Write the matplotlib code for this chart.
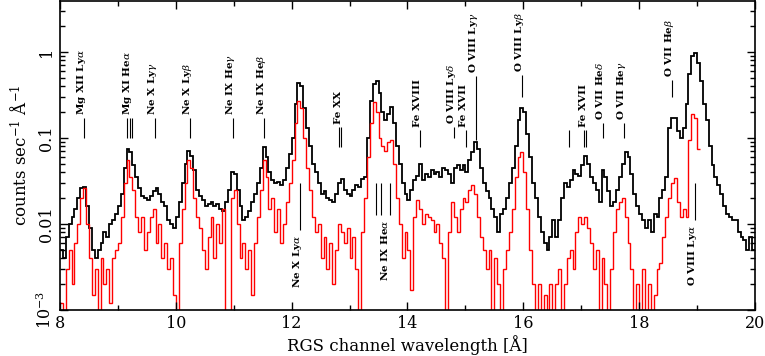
import matplotlib
matplotlib.use("Agg")
import matplotlib.pyplot as plt
import numpy as np

plt.rcParams['font.family'] = 'DejaVu Serif'
plt.rcParams['mathtext.fontset'] = 'dejavuserif'

# RGS spectra, counts/s/A, 0.05 A bins starting at 8.0 A
wave_start = 8.0
bin_width = 0.05

black = [
    0.005, 0.004, 0.007, 0.010, 0.012, 0.015, 0.020, 0.026, 0.027, 0.016,   # 8.0
    0.009, 0.005, 0.004, 0.005, 0.006, 0.008, 0.007, 0.010, 0.011, 0.013,   # 8.5
    0.016, 0.022, 0.045, 0.075, 0.068, 0.048, 0.035, 0.026, 0.021, 0.020,   # 9.0
    0.019, 0.021, 0.024, 0.026, 0.022, 0.018, 0.016, 0.011, 0.010, 0.009,   # 9.5
    0.012, 0.018, 0.030, 0.050, 0.070, 0.062, 0.042, 0.025, 0.021, 0.019,   # 10.0
    0.016, 0.017, 0.018, 0.016, 0.017, 0.015, 0.014, 0.018, 0.025, 0.040,   # 10.5
    0.038, 0.025, 0.016, 0.011, 0.012, 0.014, 0.018, 0.022, 0.030, 0.045,   # 11.0
    0.078, 0.060, 0.040, 0.032, 0.030, 0.031, 0.028, 0.032, 0.045, 0.065,   # 11.5
    0.10, 0.25, 0.44, 0.40, 0.22, 0.13, 0.08, 0.05, 0.040, 0.030,           # 12.0
    0.022, 0.024, 0.020, 0.019, 0.018, 0.022, 0.030, 0.033, 0.025, 0.022,   # 12.5
    0.021, 0.025, 0.028, 0.027, 0.033, 0.035, 0.10, 0.27, 0.42, 0.46,       # 13.0
    0.33, 0.20, 0.16, 0.19, 0.23, 0.15, 0.08, 0.050, 0.030, 0.022,          # 13.5
    0.019, 0.025, 0.032, 0.036, 0.050, 0.032, 0.038, 0.035, 0.042, 0.038,   # 14.0
    0.040, 0.035, 0.045, 0.042, 0.038, 0.030, 0.045, 0.048, 0.042, 0.048,   # 14.5
    0.040, 0.055, 0.068, 0.090, 0.075, 0.045, 0.030, 0.024, 0.020, 0.015,   # 15.0
    0.012, 0.008, 0.013, 0.015, 0.020, 0.030, 0.045, 0.080, 0.16, 0.22,     # 15.5
    0.20, 0.11, 0.060, 0.030, 0.020, 0.012, 0.008, 0.006, 0.005, 0.007,     # 16.0
    0.011, 0.007, 0.011, 0.020, 0.030, 0.027, 0.032, 0.042, 0.038, 0.036,   # 16.5
    0.048, 0.062, 0.050, 0.035, 0.030, 0.025, 0.018, 0.042, 0.035, 0.024,   # 17.0
    0.016, 0.018, 0.025, 0.035, 0.050, 0.068, 0.060, 0.038, 0.022, 0.016,   # 17.5
    0.013, 0.011, 0.009, 0.011, 0.008, 0.013, 0.012, 0.020, 0.025, 0.035,   # 18.0
    0.13, 0.17, 0.17, 0.12, 0.10, 0.13, 0.25, 0.55, 0.90, 0.97,             # 18.5
    0.75, 0.46, 0.25, 0.16, 0.080, 0.048, 0.035, 0.028, 0.022, 0.016,       # 19.0
    0.013, 0.012, 0.011, 0.011, 0.008, 0.007, 0.0065, 0.005, 0.007, 0.005,  # 19.5
]

red = [
    0.0012, 0.0008, 0.003, 0.005, 0.002, 0.006, 0.010, 0.020, 0.026, 0.010,     # 8.0
    0.004, 0.0015, 0.003, 0.0008, 0.004, 0.002, 0.003, 0.0012, 0.004, 0.005,    # 8.5
    0.006, 0.012, 0.030, 0.055, 0.035, 0.025, 0.012, 0.008, 0.012, 0.005,      # 9.0
    0.008, 0.012, 0.015, 0.006, 0.010, 0.004, 0.006, 0.003, 0.004, 0.0015,     # 9.5
    0.001, 0.006, 0.015, 0.030, 0.055, 0.045, 0.020, 0.012, 0.009, 0.005,      # 10.0
    0.003, 0.007, 0.012, 0.004, 0.010, 0.006, 0.015, 0.0007, 0.0008, 0.020,    # 10.5
    0.025, 0.010, 0.004, 0.006, 0.003, 0.005, 0.0015, 0.006, 0.012, 0.025,     # 11.0
    0.055, 0.035, 0.015, 0.020, 0.008, 0.015, 0.006, 0.010, 0.018, 0.030,      # 11.5
    0.055, 0.15, 0.27, 0.22, 0.10, 0.045, 0.025, 0.012, 0.008, 0.010,          # 12.0
    0.004, 0.007, 0.003, 0.006, 0.002, 0.005, 0.010, 0.008, 0.006, 0.009,      # 12.5
    0.004, 0.007, 0.003, 0.0007, 0.008, 0.020, 0.060, 0.15, 0.26, 0.20,        # 13.0
    0.10, 0.08, 0.07, 0.090, 0.095, 0.05, 0.020, 0.010, 0.004, 0.008,          # 13.5
    0.005, 0.0017, 0.012, 0.019, 0.015, 0.010, 0.013, 0.012, 0.011, 0.008,     # 14.0
    0.010, 0.006, 0.004, 0.0007, 0.008, 0.018, 0.012, 0.008, 0.015, 0.020,     # 14.5
    0.018, 0.025, 0.028, 0.022, 0.012, 0.007, 0.005, 0.003, 0.005, 0.0008,     # 15.0
    0.004, 0.002, 0.0008, 0.003, 0.005, 0.008, 0.015, 0.035, 0.060, 0.068,     # 15.5
    0.040, 0.015, 0.005, 0.002, 0.0008, 0.002, 0.0007, 0.0015, 0.0008, 0.002,  # 16.0
    0.0007, 0.002, 0.003, 0.0008, 0.002, 0.004, 0.005, 0.003, 0.008, 0.012,    # 16.5
    0.010, 0.012, 0.009, 0.006, 0.003, 0.005, 0.0008, 0.004, 0.002, 0.0008,    # 17.0
    0.003, 0.008, 0.015, 0.018, 0.020, 0.012, 0.006, 0.003, 0.0008, 0.002,     # 17.5
    0.0007, 0.003, 0.0008, 0.002, 0.0007, 0.0015, 0.003, 0.0035, 0.007, 0.012, # 18.0
    0.020, 0.030, 0.034, 0.018, 0.012, 0.015, 0.012, 0.095, 0.19, 0.17,        # 18.5
    0.075,                                                                     # 19.0
]

# line identifications: (label, wavelengths)
top_lines = [
    (r'Mg XII Ly$\alpha$', [8.42]),
    (r'Mg XI He$\alpha$', [9.16, 9.205, 9.25]),
    (r'Ne X Ly$\gamma$', [9.64]),
    (r'Ne X Ly$\beta$', [10.24]),
    (r'Ne IX He$\gamma$', [10.98]),
    (r'Ne IX He$\beta$', [11.53]),
    (r'Fe XX', [12.81, 12.86]),
    (r'Fe XVIII', [14.21]),
    (r'O VIII Ly$\delta$', [14.81]),
    (r'Fe XVII', [15.01]),
    (r'O VIII Ly$\gamma$', [15.18]),
    (r'O VIII Ly$\beta$', [15.98]),
    ('', [16.78]),
    (r'Fe XVII', [17.04, 17.09]),
    (r'O VII He$\delta$', [17.38]),
    (r'O VII He$\gamma$', [17.74]),
    (r'O VII He$\beta$', [18.57]),
]
# marker extent in axes fraction (bottom, top)
top_marks = [
    (0.557, 0.621), (0.557, 0.621), (0.557, 0.621), (0.557, 0.621),
    (0.557, 0.621), (0.557, 0.621), (0.528, 0.592), (0.528, 0.583),
    (0.557, 0.592), (0.528, 0.583), (0.550, 0.757), (0.689, 0.761),
    (0.528, 0.583), (0.528, 0.583), (0.557, 0.605), (0.557, 0.605),
    (0.689, 0.744),
]

bottom_lines = [
    (r'Ne X Ly$\alpha$', [12.14], 12.14),
    (r'Ne IX He$\alpha$', [13.45, 13.55, 13.69], 13.67),
    (r'O VIII Ly$\alpha$', [18.97], 18.97),
]
bottom_marks = [(0.259, 0.411), (0.307, 0.411), (0.291, 0.411)]

fig = plt.figure(figsize=(7.65, 3.56), dpi=100)
ax = fig.add_axes([60 / 765, 46 / 356, 695 / 765, 309 / 356])

edges_k = wave_start + bin_width * np.arange(len(black) + 1)
edges_r = wave_start + bin_width * np.arange(len(red) + 1)
ax.stairs(black, edges_k, baseline=None, color='black', lw=1.3)
ax.stairs(red, edges_r, baseline=None, color='#ff0000', lw=1.0)

ax.set_yscale('log')
ax.set_xlim(8, 20)
ax.set_ylim(1e-3, 3.9)

tr = ax.get_xaxis_transform()
for (txt, xs), (y0, y1) in zip(top_lines, top_marks):
    ax.vlines(xs, y0, y1, transform=tr, color='black', lw=0.8)
    if txt:
        ax.text(xs[-1] if len(xs) < 3 else xs[1], y1 + 0.01, txt, transform=tr,
                rotation=90, rotation_mode='anchor', ha='left', va='baseline',
                fontsize=7.5, fontweight='bold')
for (txt, xs, xt), (y0, y1) in zip(bottom_lines, bottom_marks):
    ax.vlines(xs, y0, y1, transform=tr, color='black', lw=0.8)
    ax.text(xt, y0 - 0.016, txt, transform=tr,
            rotation=90, rotation_mode='anchor', ha='right', va='baseline',
            fontsize=7.5, fontweight='bold')

ax.set_xticks([8, 10, 12, 14, 16, 18, 20])
ax.set_xticks(np.arange(9, 20, 2), minor=True)
ax.set_yticks([1e-3, 1e-2, 1e-1, 1])
ax.set_yticklabels([r'$10^{-3}$', '0.01', '0.1', '1'], rotation=90, va='center')
ax.tick_params(which='both', direction='in', top=True, right=True, labelsize=11.5)
ax.tick_params(which='major', length=6, width=1)
ax.tick_params(which='minor', length=3.5, width=1)
for s in ax.spines.values():
    s.set_linewidth(1.2)

ax.set_xlabel('RGS channel wavelength [Å]', fontsize=12, labelpad=2)
ax.set_ylabel(r'counts sec$^{-1}$ Å$^{-1}$', fontsize=12, labelpad=4)

fig.savefig('out.png', dpi=100)
